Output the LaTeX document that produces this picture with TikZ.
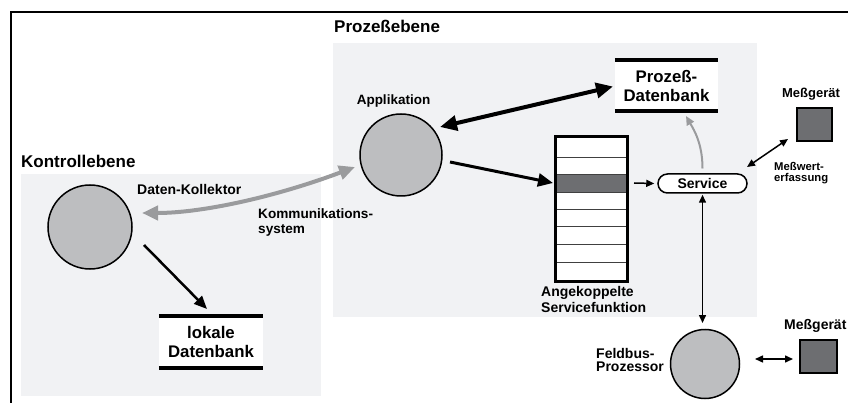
\documentclass[tikz,border=0pt]{standalone}
\usepackage{fontspec}
\setmainfont{Liberation Sans}
\usetikzlibrary{arrows.meta}

\definecolor{panelgray}{HTML}{F1F2F4}
\definecolor{discgray}{HTML}{BDBEC0}
\definecolor{devgray}{HTML}{6D6E71}
\definecolor{linkgray}{HTML}{9A9B9D}

\newcommand{\fsz}[2]{\bfseries\fontsize{#1}{#2}\selectfont}

\tikzset{
  disc/.style={circle, draw=black, line width=1.5, fill=discgray, inner sep=0},
  device/.style={rectangle, draw=black, line width=1.5, fill=devgray, inner sep=0},
  dbbox/.style={rectangle, fill=white, inner sep=0, align=center, font=\fsz{16.8}{19}},
  dbbar/.style={line width=4, black},
  pill/.style={rectangle, draw=black, line width=1.5, fill=white, rounded corners=9.5,
               inner sep=0, minimum width=89, minimum height=19, font=\fsz{14}{15}},
  lbl/.style={inner sep=0},
  thinlink/.style={black, line width=1.5},
  thinhead/.tip={Triangle[length=8, width=7]},
}

\begin{document}
\begin{tikzpicture}[x=1pt, y=-1pt]
  \path[use as bounding box, clip] (0,0) rectangle (848,403);

  % outer frame (open to the right and bottom)
  \draw[line width=2.2] (11,403) -- (11,12) -- (848,12);

  % level panels
  \fill[panelgray] (21,174) rectangle (321,396);
  \fill[panelgray] (333,43) rectangle (757,317);
  \node[lbl, anchor=base west, font=\fsz{17}{19}] (tK) at (21,168) {Kontrollebene};
  \node[lbl, anchor=base west, font=\fsz{17}{19}] (tP) at (334,33) {Prozeßebene};

  % processes
  \node[disc, minimum size=84] (K) at (90,227) {};
  \node[disc, minimum size=82] (A) at (401,155) {};
  \node[disc, minimum size=69] (F) at (705,364) {};

  % measuring devices
  \node[device, minimum width=35, minimum height=33] (M1) at (814.5,124.5) {};
  \node[device, minimum width=37, minimum height=33] (M2) at (818.5,356.5) {};

  % databases
  \node[dbbox, minimum width=103, minimum height=51] (PDB) at (666.5,85.5) {Prozeß-\\Datenbank};
  \draw[dbbar] (PDB.north west) -- (PDB.north east);
  \draw[dbbar] (PDB.south west) -- (PDB.south east);
  \node[dbbox, minimum width=104, minimum height=51.5] (LDB) at (211,342) {lokale\\Datenbank};
  \draw[dbbar] (LDB.north west) -- (LDB.north east);
  \draw[dbbar] (LDB.south west) -- (LDB.south east);

  % coupled service function stack
  \node[rectangle, fill=white, inner sep=0, minimum width=71, minimum height=144] (S) at (591.5,209) {};
  \fill[devgray] (556,174) rectangle (627,192);
  \foreach \yy in {157,174,192,209,226,244,262}
    \draw[black!75, line width=0.9] (556,\yy) -- (627,\yy);
  \draw[line width=3] (S.north west) rectangle (S.south east);

  % service
  \node[pill] (Sv) at (702.5,183.5) {Service};

  % labels
  \node[lbl, anchor=base, font=\fsz{13.5}{15}] (tA) at (393.5,105) {Applikation};
  \node[lbl, anchor=base west, font=\fsz{14}{15}] (tD) at (137,195) {Daten-Kollektor};
  \node[lbl, anchor=north west, align=left, font=\fsz{13.6}{15}] (tC) at (258,208) {Kommunikations-\\system};
  \node[lbl, anchor=base, font=\fsz{13}{15}] (tM1) at (811,98) {Meßgerät};
  \node[lbl, anchor=north west, align=left, font=\fsz{11.3}{11}] (tW) at (774,162) {Meßwert-\\erfassung};
  \node[lbl, anchor=north west, align=left, font=\fsz{14}{16}] (tS) at (541,286) {Angekoppelte\\Servicefunktion};
  \node[lbl, anchor=north west, align=left, font=\fsz{14}{13.5}] (tF) at (596,348) {Feldbus-\\Prozessor};
  \node[lbl, anchor=base west, font=\fsz{14}{15}] (tM2) at (784,329) {Meßgerät};

  % connectors
  \draw[linkgray, line width=4, {Triangle[length=16, width=14]}-{Triangle[length=16, width=14]}]
    ([shift={(52,-14)}]K.center) .. controls +(60,0) and +(-80,30) .. ([shift={(-46,12)}]A.center);
  \draw[black, line width=2.5, -{Triangle[length=13, width=11]}]
    ([shift={(54,18)}]K.center) -- ([shift={(-4,-33)}]LDB.center);
  \draw[black, line width=4, {Triangle[length=17, width=15]}-{Triangle[length=17, width=15]}]
    ([shift={(39,-28)}]A.center) -- ([shift={(-53.5,1)}]PDB.center);
  \draw[black, line width=3, -{Triangle[length=15, width=13]}]
    ([shift={(49,7)}]A.center) -- ([shift={(-38.5,-26)}]S.center);
  \draw[thinlink, -thinhead]
    ([shift={(42.5,-26)}]S.center) -- ([shift={(-3,0)}]Sv.west);
  \draw[linkgray, line width=2, -{Triangle[length=9, width=8]}]
    ([shift={(0,-15)}]Sv.center) .. controls +(0,-25) and +(8,14) .. ([shift={(19.5,30.5)}]PDB.center);
  \draw[thinlink, thinhead-thinhead]
    ([shift={(0,1)}]Sv.south) -- ([shift={(-2.5,-41)}]F.center);
  \draw[thinlink, thinhead-thinhead]
    ([shift={(44.5,-16.5)}]Sv.center) -- ([shift={(-26.5,14.5)}]M1.center);
  \draw[thinlink, thinhead-thinhead]
    ([shift={(50,-5)}]F.center) -- ([shift={(-25.5,2.5)}]M2.center);
\end{tikzpicture}
\end{document}
